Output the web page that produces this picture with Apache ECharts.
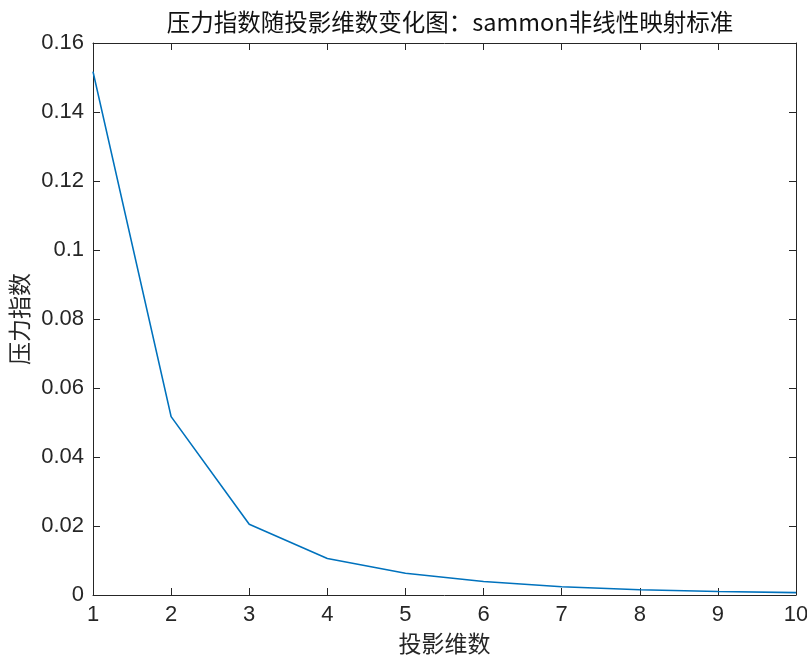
<!DOCTYPE html>
<html>
<head>
<meta charset="utf-8">
<script src="https://cdn.jsdelivr.net/npm/echarts@6/dist/echarts.min.js"></script>
<style>
html,body{margin:0;padding:0;background:#fff;}
#main{width:807px;height:657px;}
</style>
</head>
<body>
<div id="main"></div>
<script>
var dims = [1, 2, 3, 4, 5, 6, 7, 8, 9, 10];
var stress = [0.1517, 0.0517, 0.0205, 0.0106, 0.0063, 0.0039, 0.0024, 0.0015, 0.0010, 0.0007];
var titleText = '压力指数随投影维数变化图：sammon非线性映射标准';
var xName = '投影维数';
var yName = '压力指数';

var chart = echarts.init(document.getElementById('main'));
var txt = '#262626';
var fontNum = 'Liberation Sans, Arial, sans-serif';
var fontCjk = 'Noto Sans CJK SC, sans-serif';

var data = [];
for (var i = 0; i < dims.length; i++) {
	data.push([dims[i], stress[i]]);
}

// 坐标轴样式（MATLAB风格，刻度朝内）
function axisBase(show) {
	return {
		type: 'value',
		axisLine: {show: true, onZero: false, lineStyle: {color: txt, width: 1}},
		axisTick: {show: true, inside: true, length: 7, lineStyle: {color: txt}},
		splitLine: {show: false},
		axisLabel: {show: show, color: txt, fontSize: 22, fontFamily: fontNum}
	};
}

var xBottom = axisBase(true);
xBottom.min = 1; xBottom.max = 10; xBottom.interval = 1;
xBottom.position = 'bottom';
xBottom.axisLabel.margin = 9;
xBottom.name = xName;
xBottom.nameLocation = 'middle';
xBottom.nameGap = 37;
xBottom.nameTextStyle = {color: txt, fontSize: 23, fontFamily: fontCjk};

var xTop = axisBase(false);
xTop.min = 1; xTop.max = 10; xTop.interval = 1;
xTop.position = 'top';

var yLeft = axisBase(true);
yLeft.min = 0; yLeft.max = 0.16; yLeft.interval = 0.02;
yLeft.position = 'left';
yLeft.axisLabel.margin = 9;
yLeft.axisLabel.formatter = function (v) {
	return parseFloat(v.toFixed(2)).toString();
};
yLeft.name = yName;
yLeft.nameLocation = 'middle';
yLeft.nameGap = 60;
yLeft.nameTextStyle = {color: txt, fontSize: 23, fontFamily: fontCjk};

var yRight = axisBase(false);
yRight.min = 0; yRight.max = 0.16; yRight.interval = 0.02;
yRight.position = 'right';

var option = {
	backgroundColor: '#fff',
	animation: false,
	title: {
		text: titleText,
		left: 445,
		textAlign: 'center',
		top: 5,
		textStyle: {color: '#111', fontSize: 23.5, fontWeight: 'normal', fontFamily: fontCjk}
	},
	grid: {left: 93, right: 11, top: 43, bottom: 62, outerBoundsMode: 'none'},
	xAxis: [xBottom, xTop],
	yAxis: [yLeft, yRight],
	series: [
		{
			name: yName,
			type: 'line',
			data: data,
			symbol: 'none',
			lineStyle: {color: '#0072BD', width: 1.6}
		}
	]
};
chart.setOption(option);
</script>
</body>
</html>
